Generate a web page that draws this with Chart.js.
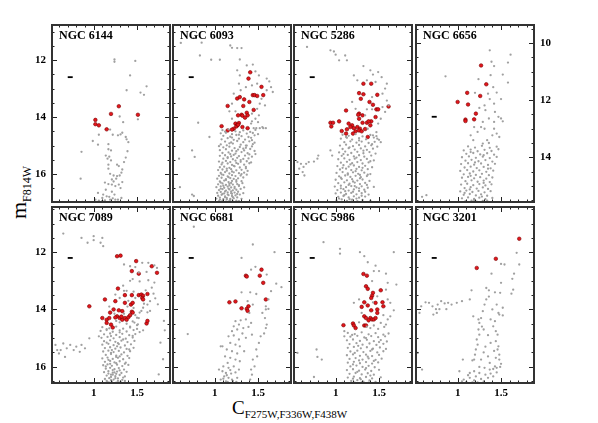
<!DOCTYPE html>
<html>
<head>
<meta charset="utf-8">
<script src="https://cdn.jsdelivr.net/npm/chart.js@4.4.1/dist/chart.umd.min.js"></script>
<style>
  body { margin: 0; background: #fff; }
  #wrap { position: relative; width: 598px; height: 423px; overflow: hidden; }
  #wrap canvas { position: absolute; }
  .lab { position: absolute; font-family: 'Liberation Serif', serif; color: #000; white-space: nowrap; line-height: 1; }
</style>
</head>
<body>
<div id="wrap">
  <div class="lab" id="xlab" style="left:232px; top:398px; font-size:19px;">C<span style="font-size:11px; position:relative; top:4px;">F275W,F336W,F438W</span></div>
  <div class="lab" id="ylab" style="left:8px; top:219px; font-size:22px; transform:rotate(-90deg); transform-origin:left top;">m<span style="font-size:12px; position:relative; top:5px;">F814W</span></div>
</div>
<script>
// cluster names, one per panel (top row then bottom row)
const clusters = ['NGC 6144', 'NGC 6093', 'NGC 5286', 'NGC 6656', 'NGC 7089', 'NGC 6681', 'NGC 5986', 'NGC 3201'];

// axis ranges (colour index and F814W magnitude, magnitude axis reversed)
const xRange = [0.52, 1.88];
const yRanges = [[10.77, 16.98], [10.77, 16.98], [10.77, 16.98], [9.36, 15.57],
                 [10.42, 16.57], [10.42, 16.57], [10.42, 16.57], [10.42, 16.57]];
const xTickLabels = [1, 1.5];

// typical error bar of each panel
const errX = [0.73, 0.73, 0.73, 0.73, 0.73, 0.73, 0.73, 0.73];
const errY = [12.6, 12.6, 12.6, 12.58, 12.2, 12.2, 12.2, 12.2];

// ---- NGC 6144
const red6144 = [[1.02,14.1],[1.02,14.25],[1.06,14.29],[1.2,13.89],[1.29,13.62],[1.51,13.92],[1.15,14.43]];
const gray6144 = [[1.24,11.98],[1.24,12.06],[1.48,12.03],[1.42,12.54],[1.61,12.92],[1.38,13.06],[1.54,13.14],[1.58,13.22],
  [1.3,13.98],[1.51,14.08],[1.34,14.18],[1.19,14.44],[1.22,14.62],[1.28,14.64],[1.31,14.61],[1.33,14.55],[1.37,14.7],[1.38,14.78],
  [1.06,14.62],[0.99,14.84],[1.05,14.97],[0.86,15.22],[1.17,14.95],[1.17,15.13],[1.2,15.17],
  [1.4,14.88],[1.39,15.2],[1.37,15.42],[1.35,15.58],
  [1.14,15.35],[1.18,15.39],[1.16,15.46],[1.2,15.52],[1.17,15.67],[1.27,15.67],[1.29,15.72],[1.17,15.81],
  [1.33,15.84],[1.32,15.95],[1.3,16.05],[1.19,15.99],[1.23,16.05],[1.27,16.07],[1.26,16.16],[1.21,16.19],[1.23,16.26],
  [0.85,16.16],[1.13,16.3],[1.17,16.35],[1.21,16.37],[1.25,16.42],[1.29,16.37],[1.33,16.28],[1.31,16.49],
  [1.05,16.66],[1.11,16.72],[1.15,16.78],[1.18,16.8],[1.1,16.84],[1.22,16.85],[1.25,16.9],[1.13,16.92],[1.06,16.93],
  [1.19,16.9],[1.28,16.9],[1.32,16.84],[1.02,16.9],[1.1,16.94],[1.21,16.62],[1.14,16.55],[1.24,16.72]];

// ---- NGC 6093
const red6093 = [[1.41,12.43],[1.39,12.65],[1.54,12.94],[1.44,13.23],[1.46,13.23],[1.49,13.26],[1.56,13.23],[1.26,13.35],
  [1.34,13.38],[1.4,13.47],[1.15,13.61],[1.33,13.61],[1.45,13.75],[1.31,13.92],[1.32,13.95],[1.37,13.85],[1.38,13.94],
  [1.35,14.02],[1.27,13.94],[1.24,14.23],[1.26,14.29],[1.28,14.21],[1.25,14.33],[1.22,14.41],[1.32,14.35],[1.38,14.39],
  [1.2,14.44],[1.15,14.47],[1.08,14.32],[1.27,14.27],[1.29,13.3]];
const gray6093 = [[0.61,11.4],[0.76,11.23],[0.85,11.39],[0.83,11.84],[0.96,11.99],[1.06,11.99],[1.18,11.49],[1.2,11.57],
  [1.26,11.58],[1.31,11.58],[1.29,11.98],[1.26,12.36],[1.29,12.54],[1.37,12.19],[1.44,12.16],[1.47,12.4],[1.51,12.54],
  [1.6,12.65],[1.63,12.75],[1.65,12.95],[1.67,13.12],[1.6,13.06],[1.49,12.83],[1.43,12.89],[1.36,12.95],[1.28,12.83],
  [1.3,13.06],[1.22,13.18],[1.54,13.36],[1.52,13.53],[1.58,13.59],[1.49,13.71],[1.43,13.88],[1.51,13.94],[1.47,14.06],
  [1.43,14.15],[1.5,14.18],[1.55,14.35],[1.59,14.39],[1.52,14.39],[1.45,14.39],[1.48,14.39],[1.56,14.39],[1.42,14.23],
  [1.2,13.53],[1.17,13.8],[1.24,13.8],[1.2,14.06],
  [0.81,14.2],[0.94,14.7],[0.74,15.17],[0.77,15.4],[0.59,15.46],[0.6,16.46],[0.74,16.72],[0.76,16.77],
  [1.09,14.46],[1.16,14.43],[1.24,14.5],[1.33,14.47],[1.41,14.52],[1.47,14.45],
  [1.07,14.57],[1.13,14.55],[1.2,14.6],[1.29,14.53],[1.37,14.58],[1.44,14.56],
  [1.1,14.66],[1.18,14.69],[1.25,14.63],[1.31,14.67],[1.39,14.7],[1.46,14.64],[1.5,14.6],
  [1.08,14.78],[1.15,14.74],[1.22,14.8],[1.28,14.76],[1.35,14.79],[1.42,14.73],
  [1.12,14.86],[1.19,14.89],[1.26,14.84],[1.33,14.88],[1.4,14.85],[1.46,14.9],
  [1.07,14.96],[1.14,14.99],[1.21,14.93],[1.3,14.97],[1.37,15.0],[1.44,14.95],
  [1.1,15.06],[1.17,15.04],[1.23,15.09],[1.29,15.05],[1.36,15.08],[1.43,15.03],
  [1.06,15.16],[1.13,15.13],[1.2,15.18],[1.27,15.14],[1.34,15.17],[1.41,15.12],[1.46,15.19],
  [1.09,15.26],[1.16,15.24],[1.24,15.28],[1.31,15.23],[1.38,15.27],
  [1.06,15.36],[1.12,15.34],[1.19,15.38],[1.22,15.33],[1.28,15.37],[1.35,15.35],[1.43,15.39],
  [1.1,15.46],[1.15,15.44],[1.21,15.48],[1.26,15.43],[1.33,15.47],[1.39,15.45],
  [1.05,15.56],[1.13,15.54],[1.18,15.58],[1.24,15.53],[1.3,15.57],[1.37,15.55],[1.42,15.59],
  [1.08,15.66],[1.15,15.63],[1.2,15.68],[1.27,15.64],[1.34,15.67],[1.4,15.62],
  [1.06,15.76],[1.11,15.74],[1.17,15.78],[1.23,15.73],[1.29,15.77],[1.36,15.75],
  [1.04,15.86],[1.09,15.84],[1.14,15.88],[1.19,15.83],[1.25,15.87],[1.31,15.85],[1.38,15.89],
  [1.07,15.96],[1.12,15.93],[1.17,15.98],[1.22,15.94],[1.28,15.97],[1.34,15.95],
  [1.05,16.06],[1.1,16.03],[1.15,16.08],[1.2,16.04],[1.24,16.07],[1.3,16.05],[1.37,16.02],
  [1.03,16.16],[1.08,16.13],[1.13,16.18],[1.18,16.14],[1.22,16.17],[1.27,16.15],[1.33,16.12],
  [1.06,16.26],[1.11,16.23],[1.16,16.28],[1.2,16.24],[1.25,16.27],[1.31,16.25],
  [1.04,16.36],[1.09,16.33],[1.13,16.38],[1.17,16.34],[1.21,16.37],[1.26,16.35],[1.32,16.32],
  [1.02,16.46],[1.07,16.43],[1.11,16.48],[1.15,16.44],[1.19,16.47],[1.23,16.45],[1.28,16.42],[1.34,16.47],
  [1.05,16.56],[1.09,16.53],[1.13,16.58],[1.17,16.54],[1.21,16.57],[1.25,16.55],[1.3,16.52],
  [1.03,16.66],[1.07,16.63],[1.11,16.68],[1.15,16.64],[1.19,16.67],[1.23,16.65],[1.27,16.62],[1.33,16.67],
  [1.04,16.76],[1.08,16.73],[1.12,16.78],[1.16,16.74],[1.2,16.77],[1.24,16.75],[1.29,16.72],
  [1.02,16.86],[1.06,16.83],[1.1,16.88],[1.14,16.84],[1.18,16.87],[1.22,16.85],[1.26,16.82],[1.31,16.87],
  [1.05,16.95],[1.09,16.93],[1.13,16.97],[1.17,16.94],[1.21,16.96],[1.25,16.93],
  [1.12,14.51],[1.28,14.62],[1.43,14.81],[1.17,14.92],[1.33,15.11],[1.25,15.2],[1.4,15.31],[1.15,15.41],[1.3,15.51],
  [1.09,15.6],[1.22,15.71],[1.36,15.8],[1.14,15.81],[1.2,15.91],[1.31,16.0],[1.08,16.01],[1.16,16.11],[1.25,16.21],
  [1.13,16.21],[1.19,16.31],[1.07,16.3],[1.28,16.39],[1.1,16.41],[1.16,16.51],[1.23,16.5],[1.07,16.51],[1.12,16.61],
  [1.19,16.61],[1.26,16.7],[1.09,16.7],[1.15,16.71],[1.21,16.81],[1.12,16.81],[1.06,16.9],[1.18,16.91],[1.28,16.95],
  [1.14,16.89],[1.2,16.69],[1.17,16.4],[1.25,15.61],[1.18,15.3],[1.36,15.0],[1.05,15.02],[1.47,15.3],[1.2,14.72]];

// ---- NGC 5286
const red5286 = [[1.32,12.83],[1.27,13.16],[1.32,13.2],[1.41,12.83],[1.48,13.22],[1.29,13.36],[1.39,13.47],[1.43,13.57],
  [1.47,13.73],[1.49,13.73],[1.61,13.63],[1.12,13.77],[1.27,13.88],[1.26,13.92],[1.31,13.94],[1.46,14.0],[1.41,14.15],
  [0.94,14.2],[0.97,14.2],[0.95,14.33],[1.04,14.15],[1.15,14.23],[1.19,14.29],[1.21,14.39],[1.25,14.35],[1.28,14.41],
  [1.31,14.2],[1.36,14.2],[1.38,14.15],[1.07,14.49],[1.13,14.43],[1.12,14.58],[1.23,14.5],[1.27,14.47],[1.3,14.5],
  [1.2,14.58],[1.37,14.7],[1.27,14.06],[1.4,14.29],[1.17,14.35],[1.34,14.42]];
const gray5286 = [[0.67,11.54],[0.94,11.66],[0.98,11.7],[1.0,11.81],[1.04,12.01],[1.13,12.01],[1.11,11.84],[1.32,12.21],
  [1.4,12.36],[1.43,12.51],[1.49,12.42],[1.53,12.6],[1.21,12.54],[1.25,12.71],[1.36,12.71],[1.46,12.77],[1.59,12.83],
  [1.57,13.0],[1.54,13.18],[1.59,13.42],[1.61,13.59],[1.54,13.65],[1.57,13.82],[1.52,14.06],[1.49,14.23],[1.47,14.53],
  [1.42,13.73],[1.36,13.73],[1.34,13.94],[1.42,13.3],[1.19,13.47],[1.23,13.71],[1.37,14.41],[1.43,14.64],[1.48,14.76],
  [1.52,14.88],
  [0.56,15.58],[0.6,15.64],[0.63,15.75],[0.66,15.64],[0.69,15.58],[0.75,15.56],[0.79,15.46],[0.8,15.35],[0.62,15.93],
  [0.64,16.05],[0.58,15.81],[0.94,15.17],[0.96,15.35],
  [1.08,14.62],[1.15,14.66],[1.23,14.6],[1.31,14.68],[1.4,14.63],[1.47,14.67],
  [1.06,14.76],[1.13,14.73],[1.19,14.79],[1.27,14.74],[1.35,14.78],[1.44,14.72],[1.5,14.8],
  [1.1,14.88],[1.17,14.85],[1.24,14.9],[1.3,14.86],[1.38,14.91],[1.45,14.87],
  [1.05,15.0],[1.12,14.97],[1.2,15.02],[1.27,14.98],[1.34,15.03],[1.41,14.99],[1.48,15.04],
  [1.08,15.12],[1.15,15.09],[1.22,15.14],[1.29,15.1],[1.36,15.15],[1.43,15.11],
  [1.04,15.24],[1.11,15.21],[1.18,15.26],[1.25,15.22],[1.32,15.27],[1.39,15.23],[1.46,15.28],
  [1.07,15.36],[1.14,15.33],[1.21,15.38],[1.27,15.34],[1.33,15.39],[1.41,15.35],
  [1.03,15.48],[1.1,15.45],[1.16,15.5],[1.22,15.46],[1.29,15.51],[1.36,15.47],[1.44,15.52],
  [1.06,15.6],[1.13,15.57],[1.19,15.62],[1.25,15.58],[1.31,15.63],[1.38,15.59],
  [1.02,15.72],[1.09,15.69],[1.15,15.74],[1.21,15.7],[1.27,15.75],[1.34,15.71],[1.42,15.76],
  [1.05,15.84],[1.12,15.81],[1.18,15.86],[1.24,15.82],[1.3,15.87],[1.37,15.83],
  [1.01,15.96],[1.08,15.93],[1.14,15.98],[1.2,15.94],[1.26,15.99],[1.33,15.95],[1.4,16.0],
  [1.04,16.08],[1.11,16.05],[1.17,16.1],[1.23,16.06],[1.29,16.11],[1.36,16.07],
  [1.0,16.2],[1.07,16.17],[1.13,16.22],[1.19,16.18],[1.25,16.23],[1.31,16.19],[1.39,16.24],
  [1.03,16.32],[1.1,16.29],[1.16,16.34],[1.22,16.3],[1.28,16.35],[1.34,16.31],
  [0.99,16.44],[1.06,16.41],[1.12,16.46],[1.18,16.42],[1.24,16.47],[1.3,16.43],[1.37,16.48],[1.44,16.45],
  [1.02,16.56],[1.09,16.53],[1.15,16.58],[1.21,16.54],[1.27,16.59],[1.33,16.55],
  [1.0,16.68],[1.06,16.65],[1.12,16.7],[1.18,16.66],[1.24,16.71],[1.3,16.67],[1.38,16.72],
  [1.03,16.8],[1.09,16.77],[1.15,16.82],[1.21,16.78],[1.27,16.83],[1.34,16.79],
  [1.01,16.92],[1.07,16.89],[1.13,16.94],[1.19,16.9],[1.25,16.95],[1.31,16.91],[1.4,16.93],
  [1.12,14.7],[1.27,14.82],[1.42,14.95],[1.16,15.06],[1.32,15.18],[1.09,15.3],[1.24,15.42],[1.4,15.55],[1.17,15.66],
  [1.31,15.78],[1.08,15.78],[1.23,15.9],[1.37,16.02],[1.14,16.02],[1.28,16.15],[1.06,16.13],[1.2,16.26],[1.36,16.38],
  [1.15,16.38],[1.27,16.5],[1.06,16.5],[1.2,16.62],[1.34,16.62],[1.1,16.74],[1.24,16.86],[1.04,16.86],[1.18,16.97],
  [1.3,16.76],[1.16,16.88],[1.22,16.42],[1.11,16.6],[1.28,16.03]];

// ---- NGC 6656
const red6656 = [[1.27,10.78],[1.33,11.44],[1.11,11.74],[1.26,11.85],[1.0,12.06],[1.12,12.15],[1.21,12.47],[1.19,12.67],
  [1.09,12.68],[1.09,12.73]];
const gray6656 = [[1.37,10.25],[1.61,10.4],[1.39,10.65],[1.42,10.8],[1.58,10.68],[1.52,11.1],[1.38,11.12],[1.24,11.26],
  [1.58,11.38],[0.86,11.16],[1.41,11.54],[1.45,11.73],[1.35,11.77],[1.2,11.74],[1.5,11.96],[1.37,11.96],[1.42,12.12],
  [1.31,12.18],[1.25,12.27],[1.32,12.35],[1.43,12.41],[1.47,12.58],[1.5,12.64],[1.42,12.76],[1.52,12.74],[1.36,12.64],
  [1.29,12.76],[1.27,12.94],[1.31,13.0],[1.19,12.94],[1.23,13.11],[1.15,13.23],[1.18,13.4],[1.42,13.0],[1.4,13.23],
  [1.45,13.17],[1.34,13.4],[1.29,13.52],[1.48,13.29],[1.36,13.5],[0.59,15.39],[0.64,15.33],
  [1.12,13.62],[1.2,13.66],[1.28,13.6],[1.37,13.67],[1.45,13.63],
  [1.07,13.76],[1.15,13.73],[1.23,13.79],[1.31,13.74],[1.39,13.78],[1.47,13.72],
  [1.1,13.88],[1.18,13.85],[1.26,13.9],[1.34,13.86],[1.42,13.91],
  [1.05,14.0],[1.13,13.97],[1.21,14.02],[1.29,13.98],[1.37,14.03],[1.45,13.99],
  [1.09,14.12],[1.16,14.09],[1.24,14.14],[1.32,14.1],[1.4,14.15],
  [1.04,14.24],[1.12,14.21],[1.19,14.26],[1.27,14.22],[1.35,14.27],[1.43,14.23],
  [1.08,14.36],[1.15,14.33],[1.22,14.38],[1.3,14.34],[1.38,14.39],
  [1.03,14.48],[1.11,14.45],[1.18,14.5],[1.25,14.46],[1.33,14.51],[1.41,14.47],
  [1.07,14.6],[1.14,14.57],[1.21,14.62],[1.28,14.58],[1.36,14.63],
  [1.05,14.72],[1.12,14.69],[1.19,14.74],[1.26,14.7],[1.33,14.75],[1.4,14.71],
  [1.09,14.84],[1.16,14.81],[1.23,14.86],[1.3,14.82],[1.37,14.87],
  [1.04,14.96],[1.11,14.93],[1.18,14.98],[1.25,14.94],[1.32,14.99],[1.39,14.95],
  [1.08,15.08],[1.15,15.05],[1.22,15.1],[1.29,15.06],[1.35,15.11],
  [1.03,15.2],[1.1,15.17],[1.17,15.22],[1.24,15.18],[1.31,15.23],[1.38,15.19],
  [1.07,15.32],[1.14,15.29],[1.21,15.34],[1.27,15.3],[1.34,15.35],
  [1.05,15.44],[1.12,15.41],[1.19,15.46],[1.25,15.42],[1.32,15.47],[1.4,15.43],
  [1.09,15.54],[1.16,15.52],[1.22,15.56],[1.29,15.53],
  [1.15,13.82],[1.3,13.93],[1.2,14.18],[1.35,14.4],[1.15,14.65],[1.3,14.9],[1.14,15.13],[1.28,15.38],[1.19,15.5],
  [1.34,15.52],[1.08,15.25]];

// ---- NGC 7089
const red7089 = [[1.27,12.14],[1.31,12.12],[1.49,12.31],[1.67,12.49],[1.73,12.72],[1.44,12.66],[1.52,12.75],[1.28,13.27],
  [1.13,13.65],[0.95,13.89],[1.44,13.5],[1.36,13.5],[1.52,13.5],[1.55,13.48],[1.57,13.52],[1.62,13.46],[1.56,13.6],
  [1.57,13.65],[1.25,13.71],[1.36,13.77],[1.43,13.83],[1.45,13.77],[1.23,14.0],[1.19,14.11],[1.29,14.03],[1.33,14.06],
  [1.44,14.08],[1.45,14.11],[1.1,14.3],[1.15,14.36],[1.18,14.3],[1.27,14.24],[1.3,14.3],[1.33,14.36],[1.36,14.3],
  [1.38,14.36],[1.4,14.27],[1.15,14.47],[1.2,14.53],[1.22,14.63],[1.61,14.49],[1.62,14.4],[1.32,14.25],[1.42,14.2],
  [1.25,14.28]];
const gray7089 = [[0.65,11.35],[0.86,11.5],[1.0,11.44],[1.0,11.58],[1.1,11.5],[1.08,11.67],[1.11,11.79],[0.93,11.67],
  [1.35,12.43],[1.42,12.49],[1.48,12.52],[1.56,12.37],[1.63,12.37],[1.7,12.46],[1.73,12.55],[1.61,12.69],[1.52,12.71],
  [1.45,12.94],[1.53,13.02],[1.63,12.98],[1.7,13.06],[1.67,13.24],[1.6,13.33],[1.42,13.0],[1.34,13.17],[1.38,13.35],
  [1.46,13.38],[1.25,13.48],[1.69,13.45],[1.65,13.71],[1.62,13.83],[1.57,13.94],[1.53,14.11],[1.5,14.29],[1.47,14.46],
  [1.51,14.52],[1.57,14.73],[1.65,14.05],[1.74,13.82],[1.71,13.61],[1.81,14.4],[1.82,14.73],[1.77,15.16],[1.8,15.74],
  [1.75,16.27],
  [0.56,15.24],[0.58,15.42],[0.62,15.42],[0.65,15.19],[0.69,15.36],[0.73,15.24],[0.77,15.42],[0.8,15.3],[0.86,15.24],
  [0.9,15.36],[0.95,15.01],[0.6,15.54],[0.67,15.66],[0.84,15.48],[1.06,14.94],
  [1.3,14.45],[1.38,14.5],[1.45,14.42],[1.5,14.55],[1.26,14.4],[1.42,14.6],[1.35,14.15],[1.48,14.2],[1.52,14.3],
  [1.24,14.15],[1.46,13.95],[1.39,13.9],[1.55,14.05],[1.3,13.6],[1.4,13.7],[1.35,13.35],[1.48,13.6],[1.58,13.8],
  [1.62,14.1],[1.18,13.9],
  [1.1,14.62],[1.18,14.66],[1.26,14.6],[1.34,14.67],[1.42,14.63],[1.5,14.68],
  [1.08,14.75],[1.15,14.72],[1.22,14.78],[1.3,14.73],[1.38,14.77],[1.46,14.72],[1.53,14.79],
  [1.12,14.87],[1.19,14.84],[1.26,14.89],[1.33,14.85],[1.41,14.9],[1.48,14.86],
  [1.09,14.99],[1.16,14.96],[1.23,15.01],[1.3,14.97],[1.37,15.02],[1.45,14.98],
  [1.12,15.11],[1.19,15.08],[1.25,15.13],[1.32,15.09],[1.39,15.14],[1.47,15.1],
  [1.1,15.23],[1.17,15.2],[1.23,15.25],[1.29,15.21],[1.36,15.26],[1.43,15.22],
  [1.13,15.35],[1.19,15.32],[1.25,15.37],[1.31,15.33],[1.38,15.38],[1.46,15.34],
  [1.11,15.47],[1.17,15.44],[1.23,15.49],[1.29,15.45],[1.35,15.5],[1.42,15.46],
  [1.14,15.59],[1.2,15.56],[1.26,15.61],[1.32,15.57],[1.39,15.62],
  [1.1,15.71],[1.16,15.68],[1.22,15.73],[1.28,15.69],[1.34,15.74],[1.41,15.7],
  [1.13,15.83],[1.19,15.8],[1.24,15.85],[1.3,15.81],[1.37,15.86],
  [1.11,15.95],[1.16,15.92],[1.21,15.97],[1.27,15.93],[1.33,15.98],[1.4,15.94],
  [1.14,16.07],[1.19,16.04],[1.24,16.09],[1.29,16.05],[1.35,16.1],
  [1.12,16.19],[1.17,16.16],[1.22,16.21],[1.27,16.17],[1.32,16.22],[1.38,16.18],
  [1.15,16.31],[1.2,16.28],[1.25,16.33],[1.3,16.29],[1.36,16.34],
  [1.13,16.43],[1.18,16.4],[1.23,16.45],[1.28,16.41],[1.33,16.46],
  [1.16,16.53],[1.21,16.51],[1.26,16.56],[1.31,16.52],[1.2,16.36],[1.24,16.2],[1.19,15.9],[1.26,15.66],[1.21,15.42],
  [1.28,15.18],
  [1.15,14.69],[1.3,14.8],[1.45,14.92],[1.2,14.93],[1.34,15.05],[1.15,15.16],[1.27,15.29],[1.41,15.4],[1.2,15.52],
  [1.3,15.64],[1.17,15.76],[1.26,15.88],[1.36,15.9],[1.14,15.99],[1.22,16.12],[1.3,16.13],[1.17,16.24],[1.26,16.25],
  [1.34,16.38],[1.2,16.47],[1.25,16.4],[1.18,16.56],[1.28,16.5],[1.22,16.28],[1.15,16.5],[1.36,16.5]];

// ---- NGC 6681
const red6681 = [[1.54,12.61],[1.52,12.82],[1.36,12.82],[1.37,12.85],[1.56,13.07],[1.59,13.65],[1.17,13.75],[1.24,13.72],
  [1.31,13.96],[1.39,13.89],[1.37,13.98],[1.38,14.05]];
const gray6681 = [[0.76,11.11],[1.44,11.73],[1.69,12.0],[1.31,12.2],[1.47,12.51],[1.42,12.61],[1.6,12.78],[1.71,13.1],
  [1.77,13.22],[1.65,13.36],[1.62,13.65],[1.59,13.89],[1.59,14.0],[1.62,13.98],[1.55,14.12],[1.58,14.3],[1.6,14.53],
  [1.59,14.65],[1.57,14.84],[1.53,14.94],[1.51,15.17],[1.48,15.4],[1.49,15.64],[1.44,15.75],[1.46,15.99],[1.42,16.1],
  [1.43,16.28],[1.41,16.45],
  [1.31,13.4],[1.41,13.4],[1.48,13.46],[1.38,13.71],[1.44,13.83],[1.4,14.12],
  [1.24,14.41],[1.3,14.38],[1.36,14.35],[1.42,14.47],[1.22,14.59],[1.28,14.53],[1.33,14.65],[1.39,14.61],[1.2,14.76],
  [1.26,14.7],[1.32,14.84],[1.16,14.94],[1.22,14.91],[1.28,15.05],[1.36,14.99],[1.43,14.88],[1.18,15.17],[1.24,15.23],
  [1.29,15.29],[1.14,15.4],[1.2,15.46],[1.26,15.54],[1.34,15.46],[1.09,15.29],[1.12,15.64],[1.18,15.69],[1.24,15.75],
  [1.29,15.81],[1.15,15.87],[1.1,15.99],[1.16,16.04],[1.22,15.99],[1.28,16.1],[1.09,16.16],[1.13,16.22],[1.19,16.24],
  [1.24,16.2],[1.05,16.1],[1.11,16.34],[1.16,16.39],[1.2,16.45],[1.26,16.39],[1.07,16.45],[1.13,16.51],[0.69,14.86],
  [1.07,15.29],[1.14,16.3],[1.18,16.12],[1.21,16.5],[1.1,16.42],[1.15,16.53],[1.25,16.53]];

// ---- NGC 5986
const red5986 = [[1.32,12.76],[1.36,12.82],[1.35,13.19],[1.37,13.28],[1.43,13.42],[1.42,13.52],[1.41,13.6],[1.52,13.33],
  [1.33,13.75],[1.37,13.86],[1.3,13.91],[1.46,13.77],[1.54,13.75],[1.55,13.89],[1.48,14.0],[1.41,14.03],[1.33,14.24],
  [1.35,14.3],[1.4,14.3],[1.42,14.35],[1.38,14.38],[1.44,14.35],[1.46,14.3],[1.48,14.12],[1.09,14.55],[1.2,14.49],
  [1.21,14.56],[1.23,14.65],[1.33,14.56],[1.35,14.56]];
const gray5986 = [[0.86,11.65],[1.05,11.88],[1.05,12.05],[1.28,12.0],[1.33,12.14],[1.37,12.35],[1.46,12.47],[1.5,12.66],
  [1.58,12.75],[1.67,12.0],[1.44,12.66],[1.42,13.01],[1.6,13.07],[1.7,13.13],[1.58,13.31],[1.48,13.54],[1.43,13.75],
  [1.6,13.65],[1.63,13.77],[1.67,14.03],[1.63,14.24],[1.6,14.35],[1.58,14.53],[1.56,14.61],[1.52,14.47],[1.49,14.68],
  [1.44,14.56],[1.21,13.77],[1.27,13.65],[1.3,14.12],[1.1,14.76],[1.1,14.94],[0.78,15.4],[0.79,15.66],[0.84,15.75],
  [0.56,15.52],[0.75,16.36],[1.36,14.6],[1.27,14.45],[1.55,14.2],[1.4,14.65],
  [1.14,14.82],[1.22,14.86],[1.3,14.8],[1.38,14.87],[1.46,14.83],[1.55,14.88],[1.61,14.84],
  [1.17,14.95],[1.25,14.92],[1.33,14.98],[1.41,14.93],[1.49,14.97],[1.57,14.94],
  [1.13,15.08],[1.2,15.05],[1.28,15.1],[1.36,15.06],[1.44,15.11],[1.52,15.07],[1.59,15.12],
  [1.16,15.21],[1.24,15.18],[1.31,15.23],[1.39,15.19],[1.47,15.24],[1.55,15.2],
  [1.14,15.34],[1.21,15.31],[1.29,15.36],[1.36,15.32],[1.43,15.37],[1.51,15.33],[1.58,15.38],
  [1.17,15.47],[1.25,15.44],[1.32,15.49],[1.4,15.45],[1.48,15.5],[1.55,15.46],
  [1.13,15.6],[1.2,15.57],[1.28,15.62],[1.35,15.58],[1.42,15.63],[1.5,15.59],
  [1.16,15.73],[1.23,15.7],[1.31,15.75],[1.38,15.71],[1.46,15.76],[1.53,15.72],
  [1.14,15.86],[1.21,15.83],[1.28,15.88],[1.35,15.84],[1.42,15.89],[1.49,15.85],
  [1.17,15.99],[1.24,15.96],[1.31,16.01],[1.38,15.97],[1.45,16.02],
  [1.13,16.12],[1.2,16.09],[1.27,16.14],[1.34,16.1],[1.41,16.15],[1.5,16.11],
  [1.16,16.25],[1.23,16.22],[1.3,16.27],[1.37,16.23],[1.44,16.28],
  [1.14,16.38],[1.21,16.35],[1.28,16.4],[1.35,16.36],[1.42,16.41],[1.52,16.37],
  [1.18,16.5],[1.25,16.47],[1.32,16.52],[1.39,16.48],[1.46,16.53],[1.22,16.56],[1.29,16.44],
  [1.19,14.89],[1.35,15.0],[1.5,15.14],[1.26,15.27],[1.42,15.4],[1.22,15.52],[1.37,15.65],[1.27,15.78],[1.44,15.8],
  [1.2,15.92],[1.35,16.05],[1.25,16.18],[1.4,16.31],[1.3,16.55],[1.2,16.42],[1.38,16.56]];

// ---- NGC 3201
const red3201 = [[1.71,11.53],[1.44,12.23],[1.22,12.55]];
const gray3201 = [[1.68,12.02],[1.71,12.43],[1.65,12.75],[1.63,12.93],[1.54,12.43],[1.5,12.41],[1.39,12.75],[1.5,13.07],
  [1.64,13.31],[1.62,13.45],[1.33,13.25],[1.36,13.33],[1.43,13.4],[1.49,13.42],[1.16,13.33],[1.14,13.65],
  [0.63,13.75],[0.67,13.77],[0.71,13.89],[0.77,13.83],[0.81,13.71],[0.85,13.79],[0.89,13.77],[0.93,13.83],[0.99,13.77],
  [1.05,13.71],[0.75,13.99],[0.76,14.12],[0.72,14.18],[0.79,13.99],[0.87,13.99],[0.58,13.89],[0.56,14.12],[0.54,15.52],
  [0.59,16.1],
  [1.33,13.65],[1.31,13.83],[1.29,14.06],[1.27,14.3],[1.25,14.47],[1.24,14.7],[1.25,14.88],[1.22,15.05],[1.23,15.23],
  [1.21,15.4],[1.2,15.58],[1.19,15.75],[1.45,13.83],[1.47,14.12],[1.48,14.18],[1.52,14.21],[1.43,14.41],[1.41,14.59],
  [1.44,14.76],[1.46,14.88],[1.44,15.11],[1.47,15.29],[1.46,15.4],[1.48,15.58],[1.44,15.69],[1.48,15.75],[1.43,15.99],
  [1.35,15.64],[1.37,15.87],[1.38,15.17],[1.3,15.5],[1.27,15.75],[1.17,15.78],[1.06,15.75],[1.18,14.24],[1.24,14.35],
  [1.25,16.01],[1.31,16.04],[1.37,16.1],[1.41,16.08],[1.45,16.04],[1.49,16.01],[1.19,16.16],[1.25,16.22],[1.32,16.28],
  [1.38,16.24],[1.45,16.2],[1.21,16.34],[1.14,16.39],[1.19,16.48],[1.07,16.45],[1.05,16.51],[1.02,16.16],[1.27,16.43],
  [1.35,16.39],[1.41,16.34],[1.14,16.22],[1.3,16.51],[1.3,14.7],[1.52,13.94],
  [1.36,13.55],[1.4,14.0],[1.38,14.35],[1.35,14.9],[1.32,15.3],[1.28,14.6],[1.42,15.45],[1.5,15.9],[1.12,16.3],
  [1.23,16.55],[1.17,16.55],[1.1,16.53]];

const grayData = [gray6144, gray6093, gray5286, gray6656, gray7089, gray6681, gray5986, gray3201];
const redData = [red6144, red6093, red5286, red6656, red7089, red6681, red5986, red3201];

// panel layout in page pixels: left, top, width, height
const colLeft = [52, 173, 294, 416];
const rowTop = [25, 207], rowH = [177, 176], panelW = 118;
const PAD = 30;

// draws frame, inward ticks on four sides, tick labels and the cluster name
const frameTicks = {
  id: 'frameTicks',
  afterDatasetsDraw(chart, args, o) {
    const ctx = chart.ctx, a = chart.chartArea, x = chart.scales.x, y = chart.scales.y;
    ctx.save();
    ctx.strokeStyle = '#222';
    ctx.lineWidth = 1;
    ctx.beginPath();
    for (let k = Math.ceil(x.min * 10); k <= Math.floor(x.max * 10); k++) {
      const px = Math.round(x.getPixelForValue(k / 10)) + 0.5;
      const len = k % 5 === 0 ? 5 : 2.5;
      ctx.moveTo(px, a.bottom); ctx.lineTo(px, a.bottom - len);
      ctx.moveTo(px, a.top); ctx.lineTo(px, a.top + len);
    }
    for (let k = Math.ceil(y.min * 2); k <= Math.floor(y.max * 2); k++) {
      const py = Math.round(y.getPixelForValue(k / 2)) + 0.5;
      const len = k % 4 === 0 ? 5 : 2.5;
      ctx.moveTo(a.left, py); ctx.lineTo(a.left + len, py);
      ctx.moveTo(a.right, py); ctx.lineTo(a.right - len, py);
    }
    ctx.stroke();
    ctx.strokeStyle = '#333';
    ctx.lineWidth = 2;
    ctx.strokeRect(a.left, a.top, a.right - a.left, a.bottom - a.top);

    ctx.fillStyle = '#000';
    ctx.font = 'bold 11px "Liberation Serif"';
    if (o.xLabels) {
      ctx.textAlign = 'center'; ctx.textBaseline = 'alphabetic';
      xTickLabels.forEach(v => ctx.fillText(String(v), x.getPixelForValue(v), a.bottom + 13));
    }
    if (o.yLabels) {
      ctx.textBaseline = 'middle';
      ctx.textAlign = o.yLabels === 'left' ? 'right' : 'left';
      for (let v = Math.ceil(y.min / 2) * 2; v <= y.max; v += 2) {
        const px = o.yLabels === 'left' ? a.left - 6 : a.right + 6;
        ctx.fillText(String(v), px, y.getPixelForValue(v));
      }
    }
    ctx.font = 'bold 12px "Liberation Serif"';
    ctx.textAlign = 'left'; ctx.textBaseline = 'alphabetic';
    ctx.fillText(o.title, a.left + 7, a.top + 14);
    ctx.restore();
  }
};

const wrap = document.getElementById('wrap');
clusters.forEach((name, i) => {
  const row = i < 4 ? 0 : 1, col = i % 4;
  const canvas = document.createElement('canvas');
  canvas.width = panelW + 2 * PAD;
  canvas.height = rowH[row] + 2 * PAD;
  canvas.style.left = (colLeft[col] - PAD) + 'px';
  canvas.style.top = (rowTop[row] - PAD) + 'px';
  wrap.appendChild(canvas);

  let yLabels = null;
  if (col === 0) yLabels = 'left';
  if (i === 3) yLabels = 'right';

  new Chart(canvas, {
    type: 'scatter',
    data: {
      datasets: [
        {
          data: grayData[i].map(p => ({ x: p[0], y: p[1] })),
          pointRadius: 1.15, backgroundColor: '#a0a0a0', borderWidth: 0
        },
        {
          data: redData[i].map(p => ({ x: p[0], y: p[1] })),
          pointRadius: 1.8, backgroundColor: '#e3161c', borderColor: '#7a0000', borderWidth: 0.6
        },
        {
          data: [{ x: errX[i], y: errY[i] }],
          pointStyle: 'line', pointRadius: 2.5, borderColor: '#000', borderWidth: 1.8
        }
      ]
    },
    options: {
      responsive: false,
      animation: false,
      events: [],
      layout: { padding: PAD },
      scales: {
        x: { type: 'linear', min: xRange[0], max: xRange[1], display: false },
        y: { type: 'linear', min: yRanges[i][0], max: yRanges[i][1], reverse: true, display: false }
      },
      plugins: {
        legend: { display: false },
        tooltip: { enabled: false },
        frameTicks: { title: name, xLabels: row === 1, yLabels: yLabels }
      }
    },
    plugins: [frameTicks]
  });
});
</script>
</body>
</html>
